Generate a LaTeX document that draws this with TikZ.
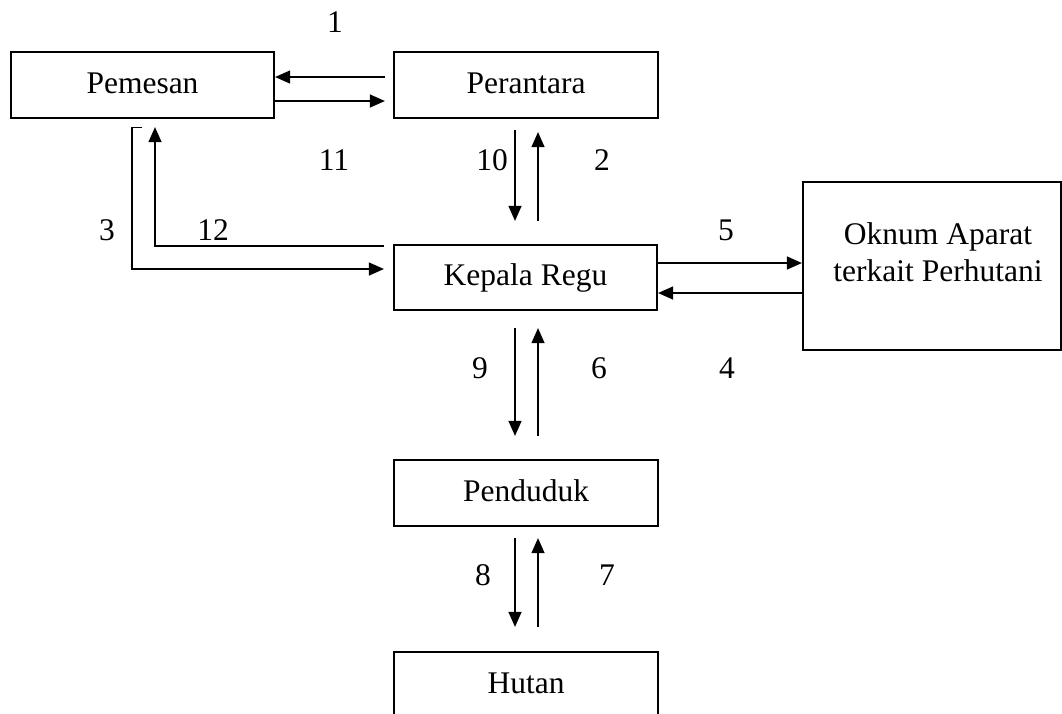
\documentclass[tikz,border=0pt]{standalone}
\usepackage{fontspec}
\setmainfont{Liberation Serif}
\usetikzlibrary{arrows.meta,calc}
\begin{document}
\begin{tikzpicture}[x=1pt,y=-1pt,
  font=\fontsize{31.5}{37}\selectfont,
  box/.style={draw,line width=2.2pt,inner sep=0pt,minimum width=264pt,minimum height=66pt,text height=24pt,text depth=7.2pt},
  arr/.style={line width=1.2pt,-{Triangle[length=15pt,width=13pt]}},
  ln/.style={line width=1.2pt},
  num/.style={inner sep=0pt}]
\useasboundingbox (0,0) rectangle (1062,713);
\node[box,minimum width=263pt] (pemesan) at (142.5,85) {Pemesan};
\node[box] (perantara) at (526,85) {Perantara};
\node[box,minimum width=263pt,minimum height=65pt] (kepala) at (525.5,277.5) {Kepala Regu};
\node[box] (penduduk) at (526,493) {Penduduk};
\node[box] (hutan) at (526,685) {Hutan};
\node[box,minimum width=258pt,minimum height=168pt,text height=,text depth=] (oknum) at (932,266) {};
\node[align=center,inner sep=0pt] (oknumtext) at (938,252) {Oknum Aparat\\terkait Perhutani};
% Pemesan <-> Perantara
\draw[arr] ($(perantara.west)+(-8,-8)$) -- ($(pemesan.east)+(0,-8)$);
\draw[arr,shorten >=8pt] ($(pemesan.east)+(0,16)$) -- ($(perantara.west)+(0,16)$);
% Perantara <-> Kepala
\draw[arr] ($(perantara.south)+(-11,11)$) -- ($(kepala.north)+(-10.5,-23)$);
\draw[arr] ($(kepala.north)+(12.5,-23)$) -- ($(perantara.south)+(12,13)$);
% Kepala <-> Oknum
\draw[arr] ($(kepala.east)+(0,-14.5)$) -- ($(oknum.west)+(0,-3)$);
\draw[arr] ($(oknum.west)+(0,27)$) -- ($(kepala.east)+(0,15.5)$);
% Kepala <-> Penduduk
\draw[arr] ($(kepala.south)+(-10.5,17)$) -- ($(penduduk.north)+(-11,-23)$);
\draw[arr] ($(penduduk.north)+(12,-23)$) -- ($(kepala.south)+(12.5,17)$);
% Penduduk <-> Hutan
\draw[arr] ($(penduduk.south)+(-11,11)$) -- ($(hutan.north)+(-11,-24)$);
\draw[arr] ($(hutan.north)+(12,-24)$) -- ($(penduduk.south)+(12,11)$);
% left loop
\draw[arr] ($(kepala.west)+(-9,-31.5)$) -| ($(pemesan.south)+(12.5,8)$);
\draw[arr] ($(pemesan.south)+(-0.5,8)$) -- ++(-10,0) |- ($(kepala.west)+(-9,-8.5)$);
% numbers
\node[num] (n1) at (335,22) {1};
\node[num] (n11) at (334,160) {11};
\node[num] (n10) at (492,160) {10};
\node[num] (n2) at (602,160) {2};
\node[num] (n3) at (107,230) {3};
\node[num] (n12) at (213,230) {12};
\node[num] (n5) at (726,230) {5};
\node[num] (n9) at (480,368) {9};
\node[num] (n6) at (599,368) {6};
\node[num] (n4) at (727,368) {4};
\node[num] (n8) at (483,575) {8};
\node[num] (n7) at (607,575) {7};
\end{tikzpicture}
\end{document}
